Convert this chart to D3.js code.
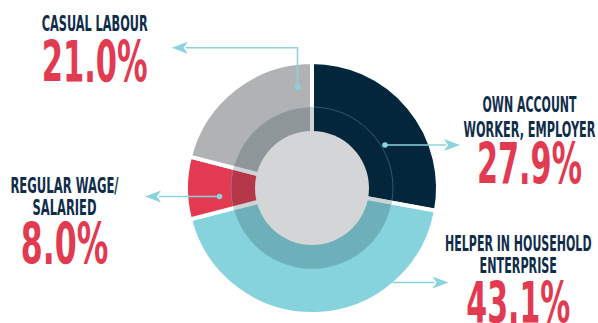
<!DOCTYPE html>
<html><head><meta charset="utf-8">
<script src="https://cdn.jsdelivr.net/npm/d3@7"></script>
<style>html,body{margin:0;padding:0;background:#fff;}svg{display:block;}</style>
</head><body>
<svg id="c" width="598" height="323"></svg>
<script>
const categories = ["OWN ACCOUNT WORKER, EMPLOYER", "HELPER IN HOUSEHOLD ENTERPRISE", "REGULAR WAGE/ SALARIED", "CASUAL LABOUR"];
const values = [27.9, 43.1, 8.0, 21.0];
const labelLines = [["OWN ACCOUNT", "WORKER, EMPLOYER"], ["HELPER IN HOUSEHOLD", "ENTERPRISE"], ["REGULAR WAGE/", "SALARIED"], ["CASUAL LABOUR"]];
const colors = ["#03263d", "#86d3dd", "#e23a51", "#b1b2b4"];

const svg = d3.select("#c");
const cx = 312, cy = 188, R = 124;
const g = svg.append("g").attr("transform", `translate(${cx},${cy})`);

const pie = d3.pie().sort(null).value(d => d).startAngle(0).endAngle(2 * Math.PI);
const arcs = pie(values);
const arc = d3.arc().innerRadius(0).outerRadius(R + 2);

g.selectAll("path.slice").data(arcs).join("path")
  .attr("class", "slice")
  .attr("d", arc)
  .attr("fill", (d, i) => colors[i])
  .attr("stroke", "#fff").attr("stroke-width", 4).attr("stroke-linejoin", "miter");

// darker translucent ring
g.append("path")
  .attr("d", d3.arc().innerRadius(56).outerRadius(81).startAngle(0).endAngle(2 * Math.PI)())
  .attr("fill", "#0a2a33").attr("fill-opacity", 0.2);
g.append("circle").attr("r", 81).attr("fill", "none")
  .attr("stroke", "#86d3dd").attr("stroke-opacity", 0.3).attr("stroke-width", 1);

// centre disc
g.append("circle").attr("r", 57).attr("fill", "#d4d5d7");

// leader lines
const lineColor = "#8dd3de";
const leaders = [
  { pts: [[385, 145], [460, 145]], dot: true },
  { pts: [[393, 282.5], [448.5, 282.5]], dot: false },
  { pts: [[219.5, 196.5], [145, 196.5]], dot: true },
  { pts: [[297.5, 87], [297.5, 47.7], [171.7, 47.7]], dot: true }
];
const line = d3.line();
leaders.forEach(l => {
  const p = l.pts;
  const tip = p[p.length - 1], prev = p[p.length - 2];
  const dir = Math.sign(tip[0] - prev[0]);
  const len = 16, hw = 6;
  svg.append("path").attr("d", line(p.slice(0, -1).concat([[tip[0] - dir * (len - 2), tip[1]]])))
    .attr("fill", "none").attr("stroke", lineColor).attr("stroke-width", 1.6);
  svg.append("path")
    .attr("d", line([[tip[0], tip[1]], [tip[0] - dir * len, tip[1] - hw], [tip[0] - dir * (len - 4), tip[1]], [tip[0] - dir * len, tip[1] + hw]]) + "Z")
    .attr("fill", lineColor);
  if (l.dot) svg.append("circle").attr("cx", p[0][0]).attr("cy", p[0][1]).attr("r", 2.8).attr("fill", lineColor);
});

// labels: horizontally compressed to match the condensed display face
const font = "'Liberation Sans Narrow','DejaVu Sans Condensed','Roboto',sans-serif";
const labelPos = [
  { x: 529.5, base: [111.7, 136.5], widths: [94, 132], pct: { y: 184.3, w: 105 } },
  { x: 518.3, base: [250.7, 273.3], widths: [146.7, 77.4], pct: { y: 322.5, w: 104 } },
  { x: 64.5, base: [193.3, 215], widths: [108.3, 64], pct: { y: 264.3, w: 87.6 } },
  { x: 94.7, base: [31], widths: [106], pct: { y: 82.3, w: 106 } }
];
function fitText(t, x, y, size, width, fill) {
  const el = svg.append("text").text(t)
    .attr("x", 0).attr("y", 0).attr("text-anchor", "middle")
    .attr("font-family", font).attr("font-weight", "bold").attr("font-size", size)
    .attr("fill", fill);
  const nat = el.node().getComputedTextLength();
  const sx = width / nat;
  el.attr("transform", `translate(${x},${y}) scale(${sx},1)`);
}
labelPos.forEach((lp, i) => {
  labelLines[i].forEach((t, j) => fitText(t, lp.x, lp.base[j], 20.5, lp.widths[j], "#0f2d4a"));
  fitText(values[i].toFixed(1) + "%", lp.x, lp.pct.y, 57, lp.pct.w, "#e23a51");
});
</script>
</body></html>
